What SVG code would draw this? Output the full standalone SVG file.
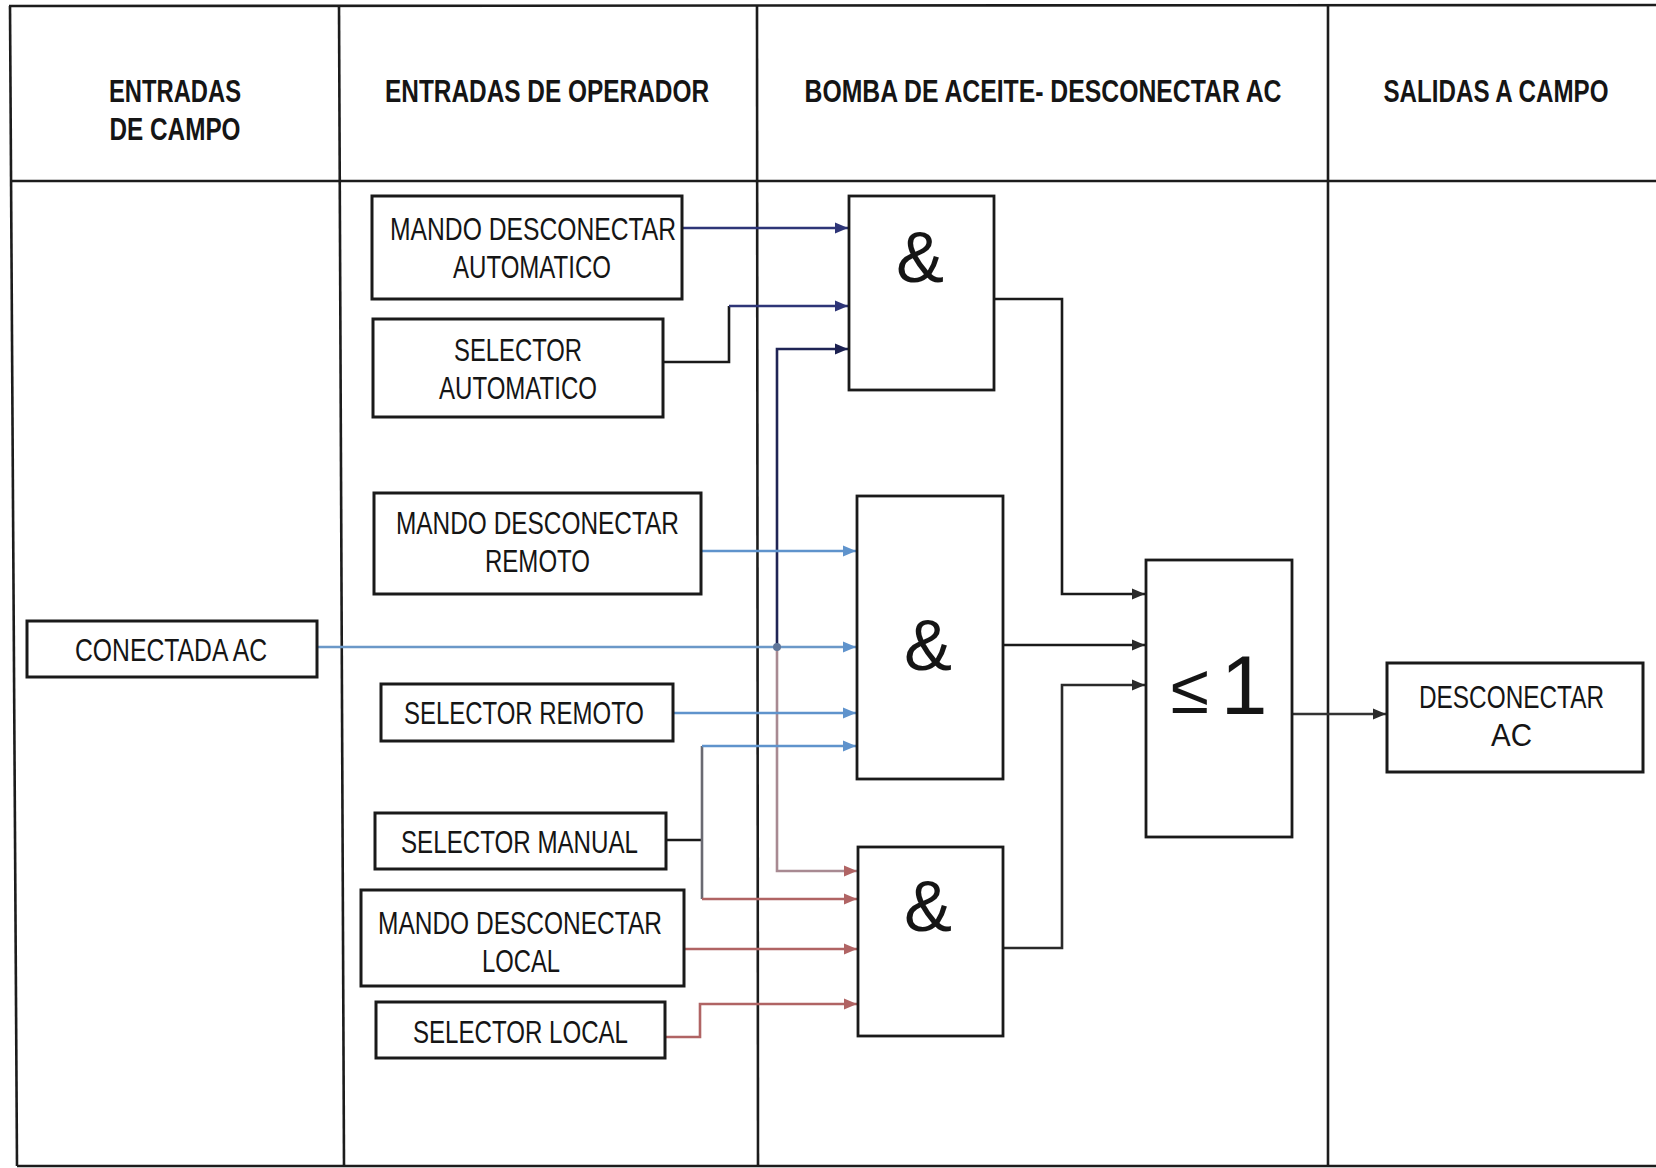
<svg xmlns="http://www.w3.org/2000/svg" width="1656" height="1168" viewBox="0 0 1656 1168">
<style>
.tbl{stroke:#1c1c1c;stroke-width:2.6;fill:none}
.box{fill:#fff;stroke:#1a1a1a;stroke-width:3}
.gate{fill:#fff;stroke:#1a1a1a;stroke-width:2.8}
.hd{font-family:"Liberation Sans Narrow","Liberation Sans",Arial,sans-serif;font-weight:bold;font-size:28px;fill:#151515;text-anchor:middle}
.tx{font-family:"Liberation Sans Narrow","Liberation Sans",Arial,sans-serif;font-size:31px;fill:#151515}
.sym{font-family:"Liberation Sans",Arial,sans-serif;fill:#151515;text-anchor:middle}
.c{fill:none;stroke-width:2.6}
</style>
<defs>
<marker id="aNavy" markerUnits="userSpaceOnUse" markerWidth="14" markerHeight="12" refX="13" refY="6" orient="auto"><path d="M0,0.5 L13,6 L0,11.5 Z" fill="#2e3577"/></marker>
<marker id="aDark" markerUnits="userSpaceOnUse" markerWidth="14" markerHeight="12" refX="13" refY="6" orient="auto"><path d="M0,0.5 L13,6 L0,11.5 Z" fill="#1b2050"/></marker>
<marker id="aBlue" markerUnits="userSpaceOnUse" markerWidth="14" markerHeight="12" refX="13" refY="6" orient="auto"><path d="M0,0.5 L13,6 L0,11.5 Z" fill="#5f93cc"/></marker>
<marker id="aRed" markerUnits="userSpaceOnUse" markerWidth="14" markerHeight="12" refX="13" refY="6" orient="auto"><path d="M0,0.5 L13,6 L0,11.5 Z" fill="#b06464"/></marker>
<marker id="aBlack" markerUnits="userSpaceOnUse" markerWidth="14" markerHeight="12" refX="13" refY="6" orient="auto"><path d="M0,0.5 L13,6 L0,11.5 Z" fill="#2a2a2a"/></marker>
</defs>
<rect width="1656" height="1168" fill="#fff"/>

<g id="table">
<line class="tbl" x1="9" y1="6" x2="1656" y2="5"/>
<line class="tbl" x1="10" y1="6" x2="17" y2="1166"/>
<line class="tbl" x1="10" y1="181" x2="1656" y2="181"/>
<line class="tbl" x1="17" y1="1166" x2="1656" y2="1166"/>
<line class="tbl" x1="339" y1="5" x2="344" y2="1166"/>
<line class="tbl" x1="757" y1="5" x2="758" y2="1166"/>
<line class="tbl" x1="1328" y1="5" x2="1328" y2="1166"/>
<text class="hd" transform="translate(175,102) scale(1,1.15)" textLength="132" lengthAdjust="spacingAndGlyphs">ENTRADAS</text>
<text class="hd" transform="translate(175,140) scale(1,1.15)" textLength="131" lengthAdjust="spacingAndGlyphs">DE CAMPO</text>
<text class="hd" transform="translate(547,102) scale(1,1.15)" textLength="324" lengthAdjust="spacingAndGlyphs">ENTRADAS DE OPERADOR</text>
<text class="hd" transform="translate(1043,102) scale(1,1.15)" textLength="477" lengthAdjust="spacingAndGlyphs">BOMBA DE ACEITE- DESCONECTAR AC</text>
<text class="hd" transform="translate(1496,102) scale(1,1.15)" textLength="225" lengthAdjust="spacingAndGlyphs">SALIDAS A CAMPO</text>
</g>

<g id="connectors">
<line class="c" x1="682" y1="228" x2="848" y2="228" stroke="#2e3577" marker-end="url(#aNavy)"/>
<polyline class="c" points="663,362 729,362 729,306" stroke="#1a1a1a"/>
<line class="c" x1="729" y1="306" x2="848" y2="306" stroke="#2e3577" marker-end="url(#aNavy)"/>
<polyline class="c" points="777,647 777,349 848,349" stroke="#1f2455" marker-end="url(#aDark)"/>
<line class="c" x1="317" y1="647" x2="856" y2="647" stroke="#6b98c8" marker-end="url(#aBlue)"/>
<polyline class="c" points="777,647 777,871 857,871" stroke="#a88a92" stroke-width="2.2" marker-end="url(#aRed)"/>
<circle cx="777" cy="647" r="4" fill="#5f7598"/>
<line class="c" x1="701" y1="551" x2="856" y2="551" stroke="#5f93cc" marker-end="url(#aBlue)"/>
<line class="c" x1="673" y1="713" x2="856" y2="713" stroke="#5f93cc" marker-end="url(#aBlue)"/>
<line class="c" x1="666" y1="840" x2="702" y2="840" stroke="#1a1a1a"/>
<line class="c" x1="702" y1="746" x2="702" y2="899" stroke="#6a6a72" stroke-width="2"/>
<line class="c" x1="702" y1="746" x2="856" y2="746" stroke="#5f93cc" marker-end="url(#aBlue)"/>
<line class="c" x1="702" y1="899" x2="857" y2="899" stroke="#b06464" marker-end="url(#aRed)"/>
<line class="c" x1="684" y1="949" x2="857" y2="949" stroke="#b06464" marker-end="url(#aRed)"/>
<polyline class="c" points="665,1037 700,1037 700,1004 857,1004" stroke="#b06464" marker-end="url(#aRed)"/>
<polyline class="c" points="994,299 1062,299 1062,594 1145,594" stroke="#1a1a1a" marker-end="url(#aBlack)"/>
<line class="c" x1="1003" y1="645" x2="1145" y2="645" stroke="#1a1a1a" marker-end="url(#aBlack)"/>
<polyline class="c" points="1003,948 1062,948 1062,685 1145,685" stroke="#2a2a2a" marker-end="url(#aBlack)"/>
<line class="c" x1="1292" y1="714" x2="1386" y2="714" stroke="#333" marker-end="url(#aBlack)"/>
</g>

<g id="n-mando-auto">
<rect class="box" x="372" y="196" width="310" height="103"/>
<text class="tx" x="390" y="240" textLength="286" lengthAdjust="spacingAndGlyphs">MANDO DESCONECTAR</text>
<text class="tx" x="453" y="278" textLength="158" lengthAdjust="spacingAndGlyphs">AUTOMATICO</text>
</g>
<g id="n-selector-auto">
<rect class="box" x="373" y="319" width="290" height="98"/>
<text class="tx" x="454" y="361" textLength="128" lengthAdjust="spacingAndGlyphs">SELECTOR</text>
<text class="tx" x="439" y="399" textLength="158" lengthAdjust="spacingAndGlyphs">AUTOMATICO</text>
</g>
<g id="n-mando-remoto">
<rect class="box" x="374" y="493" width="327" height="101"/>
<text class="tx" x="396" y="534" textLength="283" lengthAdjust="spacingAndGlyphs">MANDO DESCONECTAR</text>
<text class="tx" x="485" y="572" textLength="105" lengthAdjust="spacingAndGlyphs">REMOTO</text>
</g>
<g id="n-conectada">
<rect class="box" x="27" y="621" width="290" height="56"/>
<text class="tx" x="75" y="661" textLength="192" lengthAdjust="spacingAndGlyphs">CONECTADA AC</text>
</g>
<g id="n-selector-remoto">
<rect class="box" x="381" y="684" width="292" height="57"/>
<text class="tx" x="404" y="724" textLength="240" lengthAdjust="spacingAndGlyphs">SELECTOR REMOTO</text>
</g>
<g id="n-selector-manual">
<rect class="box" x="375" y="813" width="291" height="56"/>
<text class="tx" x="401" y="853" textLength="237" lengthAdjust="spacingAndGlyphs">SELECTOR MANUAL</text>
</g>
<g id="n-mando-local">
<rect class="box" x="361" y="890" width="323" height="96"/>
<text class="tx" x="378" y="934" textLength="284" lengthAdjust="spacingAndGlyphs">MANDO DESCONECTAR</text>
<text class="tx" x="482" y="972" textLength="78" lengthAdjust="spacingAndGlyphs">LOCAL</text>
</g>
<g id="n-selector-local">
<rect class="box" x="376" y="1002" width="289" height="56"/>
<text class="tx" x="413" y="1043" textLength="215" lengthAdjust="spacingAndGlyphs">SELECTOR LOCAL</text>
</g>

<g id="g-and1">
<rect class="gate" x="849" y="196" width="145" height="194"/>
<text class="sym" x="920" y="282" font-size="72">&amp;</text>
</g>
<g id="g-and2">
<rect class="gate" x="857" y="496" width="146" height="283"/>
<text class="sym" x="928" y="670" font-size="72">&amp;</text>
</g>
<g id="g-and3">
<rect class="gate" x="858" y="847" width="145" height="189"/>
<text class="sym" x="928" y="931" font-size="72">&amp;</text>
</g>
<g id="g-or">
<rect class="gate" x="1146" y="560" width="146" height="277"/>
<text class="sym" x="1190" y="713" font-size="70">≤</text>
<text class="sym" x="1244" y="714" font-size="84">1</text>
</g>

<g id="n-desconectar">
<rect class="box" x="1387" y="663" width="256" height="109"/>
<text class="tx" x="1419" y="708" textLength="185" lengthAdjust="spacingAndGlyphs">DESCONECTAR</text>
<text class="tx" x="1491" y="746" textLength="41" lengthAdjust="spacingAndGlyphs">AC</text>
</g>
</svg>
